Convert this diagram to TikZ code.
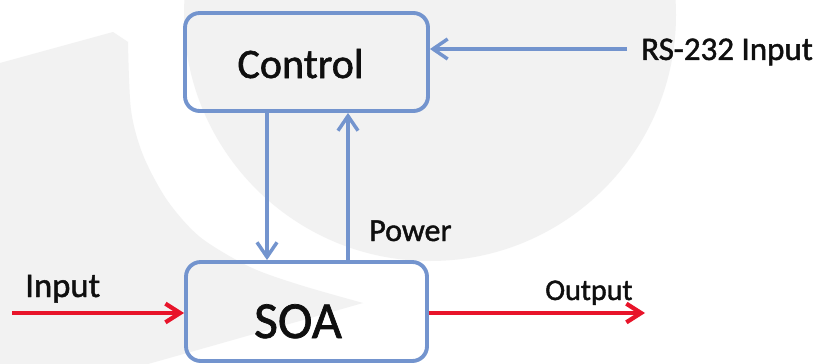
\documentclass[tikz,border=0pt]{standalone}
\usepackage{fontspec}
\setmainfont{Carlito}[FakeBold=1.4]
\usetikzlibrary{arrows.meta}
\definecolor{wmgray}{RGB}{242,242,242}
\definecolor{boxblue}{RGB}{115,148,206}
\definecolor{sigred}{RGB}{232,20,42}
\definecolor{txt}{RGB}{15,15,15}
\tikzset{
  box/.style={draw=boxblue, line width=2.9pt, rounded corners=11pt, inner sep=0pt},
  bluearrow/.style={draw=boxblue, line width=2.6pt, -{Straight Barb[length=11pt,width=15pt]}},
  redarrow/.style={draw=sigred, line width=3.2pt, -{Straight Barb[length=11pt,width=14pt]}},
  lbl/.style={inner sep=0pt, text=txt},
}
\begin{document}
\begin{tikzpicture}[x=0.75pt,y=-0.75pt]
\useasboundingbox (0,0) rectangle (819,364);
\fill[white] (0,0) rectangle (819,364);
% watermark
\begin{scope}
\clip (0,0) rectangle (819,364);
\fill[wmgray] (430,15) circle[radius=246];
\fill[wmgray] (0,63) -- (113,32) -- (128,42)
  -- plot[smooth] coordinates {(128,42) (131,110) (143,155) (167,200) (200,237) (250,267) (300,285) (363,303)}
  -- (187,353) -- (148,364) -- (0,364) -- cycle;
\end{scope}
% boxes
\node[box, minimum width=182.25pt, minimum height=73.5pt] (ctrl) at (306.5,62) {};
\node[box, minimum width=180.75pt, minimum height=74.25pt] (soa) at (306.5,311.5) {};
\node[lbl, anchor=base, font=\fontsize{31.5pt}{36pt}\selectfont] (ctrltxt) at (300.5,78) {Control};
\node[lbl, anchor=base, font=\fontsize{39pt}{44pt}\selectfont] (soatxt) at (298,338) {SOA};
% labels
\node[lbl, anchor=base west, font=\fontsize{24.75pt}{28pt}\selectfont] (rstxt) at (641,60) {RS-232 Input};
\node[lbl, anchor=base west, font=\fontsize{24pt}{28pt}\selectfont] (powtxt) at (369,241) {Power};
\node[lbl, anchor=base west, font=\fontsize{26pt}{30pt}\selectfont] (intxt) at (25,297) {Input};
\node[lbl, anchor=base west, font=\fontsize{22.5pt}{26pt}\selectfont] (outtxt) at (545,300) {Output};
% coordinates
\coordinate (dnx) at (267,0);
\coordinate (upx) at (348,0);
\coordinate (rs) at (627,49);
\coordinate (inp) at (12,313);
\coordinate (outp) at (645,313);
% connectors
\draw[bluearrow] (dnx |- ctrl.south) -- (dnx |- soa.north);
\draw[bluearrow] (upx |- soa.north) -- (upx |- ctrl.south);
\draw[bluearrow] (rs) -- (rs -| ctrl.east);
\draw[redarrow] (inp) -- (inp -| soa.west);
\draw[redarrow] (soa.east |- outp) -- (outp);
\end{tikzpicture}
\end{document}
